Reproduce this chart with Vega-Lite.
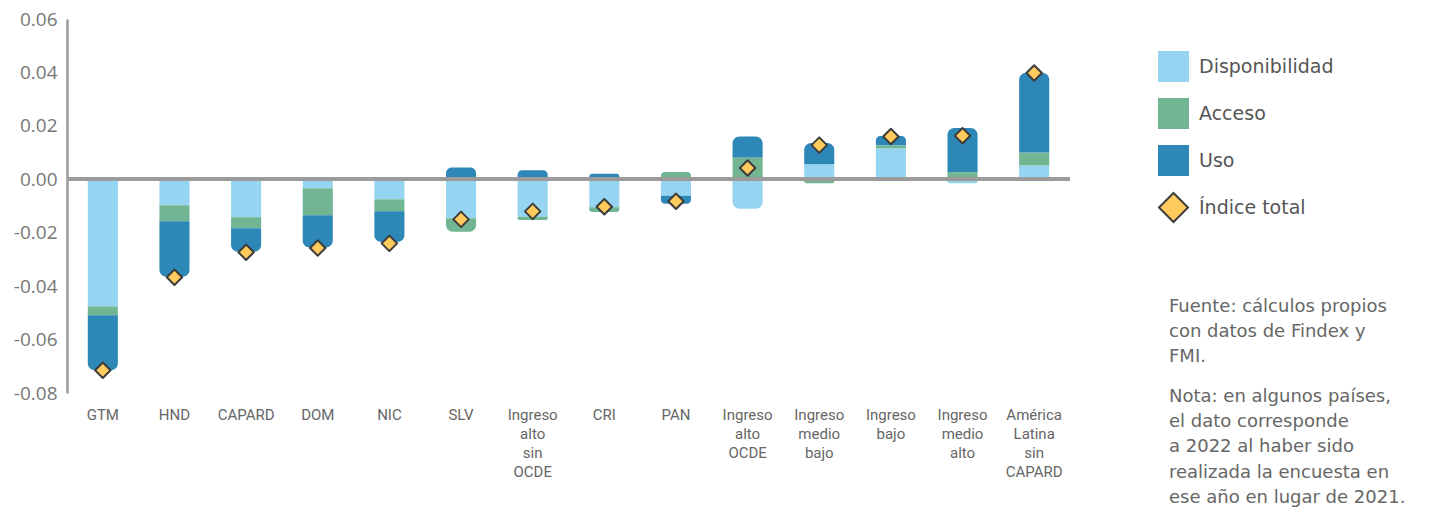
{
  "$schema": "https://vega.github.io/schema/vega-lite/v6.json",
  "width": 1003,
  "height": 374,
  "autosize": {"type": "none"},
  "padding": {"left": 67, "top": 19, "right": 375, "bottom": 120},
  "background": "white",
  "config": {"view": {"stroke": null}, "font": "Open Sans"},
  "title": {
    "text": ["Fuente: cálculos propios", "con datos de Findex y", "FMI."],
    "subtitle": ["Nota: en algunos países,", "el dato corresponde", "a 2022 al haber sido", "realizada la encuesta en", "ese año en lugar de 2021."],
    "orient": "top",
    "anchor": "start",
    "frame": "group",
    "dx": 1102,
    "dy": 501,
    "font": "DejaVu Sans",
    "fontSize": 18,
    "fontWeight": "normal",
    "color": "#666666",
    "lineHeight": 25,
    "subtitleFont": "DejaVu Sans",
    "subtitleFontSize": 18,
    "subtitleColor": "#666666",
    "subtitleLineHeight": 25.3,
    "subtitlePadding": 22
  },
  "data": {
    "values": [
      {"pais": "GTM", "componente": "Disponibilidad", "valor": -0.0476},
      {"pais": "GTM", "componente": "Acceso", "valor": -0.0033},
      {"pais": "GTM", "componente": "Uso", "valor": -0.0206},
      {"pais": "GTM", "componente": "Índice total", "valor": -0.0715},
      {"pais": "HND", "componente": "Disponibilidad", "valor": -0.0097},
      {"pais": "HND", "componente": "Acceso", "valor": -0.0060},
      {"pais": "HND", "componente": "Uso", "valor": -0.0208},
      {"pais": "HND", "componente": "Índice total", "valor": -0.0367},
      {"pais": "CAPARD", "componente": "Disponibilidad", "valor": -0.0142},
      {"pais": "CAPARD", "componente": "Acceso", "valor": -0.0041},
      {"pais": "CAPARD", "componente": "Uso", "valor": -0.0088},
      {"pais": "CAPARD", "componente": "Índice total", "valor": -0.0273},
      {"pais": "DOM", "componente": "Disponibilidad", "valor": -0.0034},
      {"pais": "DOM", "componente": "Acceso", "valor": -0.0101},
      {"pais": "DOM", "componente": "Uso", "valor": -0.0120},
      {"pais": "DOM", "componente": "Índice total", "valor": -0.0257},
      {"pais": "NIC", "componente": "Disponibilidad", "valor": -0.0075},
      {"pais": "NIC", "componente": "Acceso", "valor": -0.0045},
      {"pais": "NIC", "componente": "Uso", "valor": -0.0115},
      {"pais": "NIC", "componente": "Índice total", "valor": -0.0240},
      {"pais": "SLV", "componente": "Disponibilidad", "valor": -0.0146},
      {"pais": "SLV", "componente": "Acceso", "valor": -0.0050},
      {"pais": "SLV", "componente": "Uso", "valor": 0.0044},
      {"pais": "SLV", "componente": "Índice total", "valor": -0.0150},
      {"pais": "Ingreso alto sin OCDE", "componente": "Disponibilidad", "valor": -0.0140},
      {"pais": "Ingreso alto sin OCDE", "componente": "Acceso", "valor": -0.0012},
      {"pais": "Ingreso alto sin OCDE", "componente": "Uso", "valor": 0.0034},
      {"pais": "Ingreso alto sin OCDE", "componente": "Índice total", "valor": -0.0120},
      {"pais": "CRI", "componente": "Disponibilidad", "valor": -0.0105},
      {"pais": "CRI", "componente": "Acceso", "valor": -0.0017},
      {"pais": "CRI", "componente": "Uso", "valor": 0.0021},
      {"pais": "CRI", "componente": "Índice total", "valor": -0.0103},
      {"pais": "PAN", "componente": "Disponibilidad", "valor": -0.0062},
      {"pais": "PAN", "componente": "Acceso", "valor": 0.0027},
      {"pais": "PAN", "componente": "Uso", "valor": -0.0030},
      {"pais": "PAN", "componente": "Índice total", "valor": -0.0082},
      {"pais": "Ingreso alto OCDE", "componente": "Disponibilidad", "valor": -0.0110},
      {"pais": "Ingreso alto OCDE", "componente": "Acceso", "valor": 0.0082},
      {"pais": "Ingreso alto OCDE", "componente": "Uso", "valor": 0.0078},
      {"pais": "Ingreso alto OCDE", "componente": "Índice total", "valor": 0.0042},
      {"pais": "Ingreso medio bajo", "componente": "Disponibilidad", "valor": 0.0056},
      {"pais": "Ingreso medio bajo", "componente": "Acceso", "valor": -0.0015},
      {"pais": "Ingreso medio bajo", "componente": "Uso", "valor": 0.0080},
      {"pais": "Ingreso medio bajo", "componente": "Índice total", "valor": 0.0128},
      {"pais": "Ingreso bajo", "componente": "Disponibilidad", "valor": 0.0116},
      {"pais": "Ingreso bajo", "componente": "Acceso", "valor": 0.0011},
      {"pais": "Ingreso bajo", "componente": "Uso", "valor": 0.0035},
      {"pais": "Ingreso bajo", "componente": "Índice total", "valor": 0.0160},
      {"pais": "Ingreso medio alto", "componente": "Disponibilidad", "valor": -0.0015},
      {"pais": "Ingreso medio alto", "componente": "Acceso", "valor": 0.0027},
      {"pais": "Ingreso medio alto", "componente": "Uso", "valor": 0.0165},
      {"pais": "Ingreso medio alto", "componente": "Índice total", "valor": 0.0163},
      {"pais": "América Latina sin CAPARD", "componente": "Disponibilidad", "valor": 0.0052},
      {"pais": "América Latina sin CAPARD", "componente": "Acceso", "valor": 0.0048},
      {"pais": "América Latina sin CAPARD", "componente": "Uso", "valor": 0.0299},
      {"pais": "América Latina sin CAPARD", "componente": "Índice total", "valor": 0.0398}
    ]
  },
  "layer": [
    {
      "transform": [
        {"filter": "datum.componente !== 'Índice total'"},
        {"calculate": "indexof(['Disponibilidad','Acceso','Uso'], datum.componente)", "as": "orden"},
        {"calculate": "datum.valor < 0 ? 'neg' : 'pos'", "as": "signo"},
        {"stack": "valor", "groupby": ["pais"], "sort": [{"field": "orden", "order": "ascending"}], "as": ["v0", "v1"], "offset": "zero"},
        {"window": [{"op": "row_number", "as": "rk"}], "groupby": ["pais", "signo"], "sort": [{"field": "orden", "order": "descending"}]}
      ],
      "encoding": {
        "x": {
          "field": "pais", "type": "nominal", "title": null,
          "scale": {"domain": ["GTM", "HND", "CAPARD", "DOM", "NIC", "SLV", "Ingreso alto sin OCDE", "CRI", "PAN", "Ingreso alto OCDE", "Ingreso medio bajo", "Ingreso bajo", "Ingreso medio alto", "América Latina sin CAPARD"], "paddingInner": 0.58, "paddingOuter": 0.29},
          "axis": {"labelExpr": "split(datum.label, ' ')", "domain": false, "ticks": false, "labelPadding": 14, "labelFontSize": 15, "labelColor": "#666666", "labelFont": "Roboto", "labelLineHeight": 19, "labelAngle": 0, "labelBound": false, "labelOverlap": false}
        },
        "y": {
          "field": "v0", "type": "quantitative", "title": null,
          "scale": {"domain": [-0.08, 0.06], "nice": false, "zero": false},
          "axis": {"values": [-0.08, -0.06, -0.04, -0.02, 0, 0.02, 0.04, 0.06], "labelExpr": "replace(format(datum.value, '.2f'), '−', '-')", "domainColor": "#9b9b9b", "domainWidth": 2.5, "ticks": false, "grid": false, "labelFontSize": 19, "labelColor": "#777777", "labelPadding": 10, "labelFont": "Open Sans"}
        },
        "y2": {"field": "v1"},
        "color": {
          "field": "componente", "type": "nominal", "title": null,
          "scale": {"domain": ["Disponibilidad", "Acceso", "Uso", "Índice total"], "range": ["#95D5F1", "#72B592", "#2D87B7", "#FFCB5C"]},
          "legend": {"orient": "none", "legendX": 1091, "legendY": 32, "symbolSize": 841, "symbolStrokeWidth": 2, "labelFontSize": 19, "labelColor": "#555555", "labelFont": "DejaVu Sans", "rowPadding": 10, "labelOffset": 10}
        }
      },
      "layer": [
        {"transform": [{"filter": "datum.rk > 1"}], "mark": {"type": "bar"}},
        {"transform": [{"filter": "datum.rk == 1 && datum.signo == 'pos'"}], "mark": {"type": "bar", "cornerRadiusTopLeft": 7, "cornerRadiusTopRight": 7}},
        {"transform": [{"filter": "datum.rk == 1 && datum.signo == 'neg'"}], "mark": {"type": "bar", "cornerRadiusBottomLeft": 7, "cornerRadiusBottomRight": 7}}
      ]
    },
    {
      "mark": {"type": "rule", "color": "#9b9b9b", "strokeWidth": 3},
      "encoding": {"y": {"datum": 0, "type": "quantitative"}}
    },
    {
      "transform": [{"filter": "datum.componente === 'Índice total'"}],
      "mark": {"type": "point", "filled": true, "size": 240, "strokeWidth": 2, "strokeJoin": "round", "opacity": 1},
      "encoding": {
        "x": {
          "field": "pais", "type": "nominal", "title": null,
          "scale": {"domain": ["GTM", "HND", "CAPARD", "DOM", "NIC", "SLV", "Ingreso alto sin OCDE", "CRI", "PAN", "Ingreso alto OCDE", "Ingreso medio bajo", "Ingreso bajo", "Ingreso medio alto", "América Latina sin CAPARD"], "paddingInner": 0.58, "paddingOuter": 0.29},
          "axis": {"labelExpr": "split(datum.label, ' ')", "domain": false, "ticks": false, "labelPadding": 14, "labelFontSize": 15, "labelColor": "#666666", "labelFont": "Roboto", "labelLineHeight": 19, "labelAngle": 0, "labelBound": false, "labelOverlap": false}
        },
        "y": {
          "field": "valor", "type": "quantitative", "title": null,
          "axis": {"values": [-0.08, -0.06, -0.04, -0.02, 0, 0.02, 0.04, 0.06], "labelExpr": "replace(format(datum.value, '.2f'), '−', '-')", "domainColor": "#9b9b9b", "domainWidth": 2.5, "ticks": false, "grid": false, "labelFontSize": 19, "labelColor": "#777777", "labelPadding": 10, "labelFont": "Open Sans"}
        },
        "color": {
          "field": "componente", "type": "nominal", "title": null,
          "scale": {"domain": ["Disponibilidad", "Acceso", "Uso", "Índice total"], "range": ["#95D5F1", "#72B592", "#2D87B7", "#FFCB5C"]},
          "legend": {"orient": "none", "legendX": 1091, "legendY": 32, "symbolSize": 841, "symbolStrokeWidth": 2, "labelFontSize": 19, "labelColor": "#555555", "labelFont": "DejaVu Sans", "rowPadding": 10, "labelOffset": 10}
        },
        "shape": {
          "field": "componente", "type": "nominal", "title": null,
          "scale": {"domain": ["Disponibilidad", "Acceso", "Uso", "Índice total"], "range": ["square", "square", "square", "diamond"]},
          "legend": {"orient": "none", "legendX": 1091, "legendY": 32, "symbolSize": 841, "symbolStrokeWidth": 2, "labelFontSize": 19, "labelColor": "#555555", "labelFont": "DejaVu Sans", "rowPadding": 10, "labelOffset": 10}
        },
        "stroke": {
          "field": "componente", "type": "nominal", "title": null,
          "scale": {"domain": ["Disponibilidad", "Acceso", "Uso", "Índice total"], "range": ["#95D5F1", "#72B592", "#2D87B7", "#3C3C3C"]},
          "legend": {"orient": "none", "legendX": 1091, "legendY": 32, "symbolSize": 841, "symbolStrokeWidth": 2, "labelFontSize": 19, "labelColor": "#555555", "labelFont": "DejaVu Sans", "rowPadding": 10, "labelOffset": 10}
        }
      }
    }
  ]
}
